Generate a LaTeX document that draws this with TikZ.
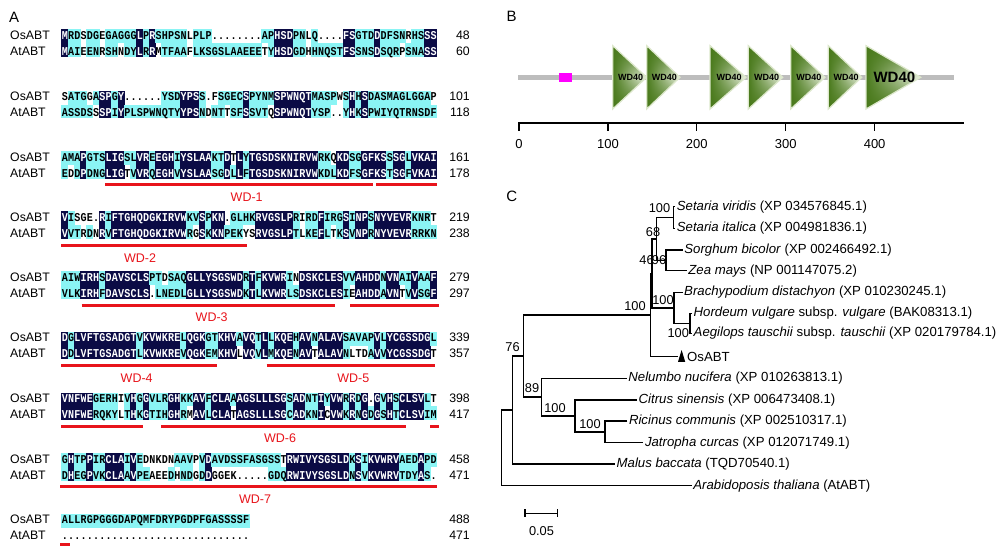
\documentclass[tikz,border=0pt]{standalone}
\usepackage{fontspec}
\setmainfont{Liberation Sans}
\newfontfamily\seqfont{Liberation Mono}[FakeStretch=0.84]
\usetikzlibrary{fadings}
\definecolor{alndark}{HTML}{0B0B45}
\definecolor{alncyan}{HTML}{8AF4F4}
\definecolor{wdred}{HTML}{E8141B}
\definecolor{wdg}{HTML}{4A7A1C}
\definecolor{wdl}{HTML}{EEF4E4}
\definecolor{wdedge}{HTML}{DDE8CC}
\definecolor{bbgray}{HTML}{BDBDBD}
\definecolor{mag}{HTML}{FF00FF}
\tikzset{
  dkcell/.style={fill=alndark},
  cycell/.style={fill=alncyan},
  seqch/.style={font=\seqfont\bfseries\fontsize{12}{12}\selectfont, inner sep=0pt, anchor=base, text=black},
  seqchw/.style={seqch, text=white},
  rowlab/.style={font=\fontsize{12.3}{14}\selectfont, inner sep=0pt, anchor=west},
  numlab/.style={font=\fontsize{12.3}{14}\selectfont, inner sep=0pt, anchor=east},
  wdline/.style={draw=wdred, line width=3pt},
  wdlab/.style={text=wdred, font=\fontsize{12.5}{14}\selectfont, inner sep=0pt},
  panlab/.style={font=\fontsize{15}{16}\selectfont, inner sep=0pt},
  leaf/.style={font=\fontsize{13.2}{15}\selectfont, inner sep=1.5pt, anchor=west},
  boot/.style={font=\fontsize{12.8}{14}\selectfont, inner sep=0pt},
  tree/.style={draw=black, line width=1.4pt},
  backbone/.style={draw=bbgray, line width=5pt},
  axisline/.style={draw=black, line width=2pt},
  tickline/.style={draw=black, line width=1.3pt},
  ticklab/.style={font=\fontsize{13}{14}\selectfont, inner sep=0pt},
  wdshade/.style={top color=wdg, bottom color=wdg, middle color=wdl},
  wdfade/.style={fill=wdg, path fading=east},
  wdborder/.style={draw=wdedge, line width=1.2pt, line join=miter},
  wdtxt/.style={inner sep=0pt, text=black},
}
\ExplSyntaxOn
\tl_new:N \l__abt_a_tl
\tl_new:N \l__abt_b_tl
\tl_new:N \l__abt_x_tl
\tl_new:N \l__abt_xa_tl
\tl_new:N \l__abt_xb_tl
\tl_new:N \l__abt_ya_tl
\tl_new:N \l__abt_ym_tl
\tl_new:N \l__abt_yb_tl
\tl_new:N \l__abt_ta_tl
\tl_new:N \l__abt_tb_tl
\cs_new_protected:Npn \abt_block:nnnnn #1#2#3#4#5
 {
  \tl_set:Nx \l__abt_ya_tl { \fp_eval:n { #1 - 5.8 } }
  \tl_set:Nx \l__abt_ym_tl { \fp_eval:n { #1 + 8 } }
  \tl_set:Nx \l__abt_yb_tl { \fp_eval:n { #1 + 21.8 } }
  \tl_set:Nx \l__abt_ta_tl { \fp_eval:n { #1 + 4 } }
  \tl_set:Nx \l__abt_tb_tl { \fp_eval:n { #1 + 20 } }
  \int_step_inline:nn { \str_count:n {#2} }
   {
    \tl_set:Nx \l__abt_a_tl { \str_item:nn {#2} {##1} }
    \tl_set:Nx \l__abt_b_tl { \str_item:nn {#3} {##1} }
    \tl_set:Nx \l__abt_xa_tl { \fp_eval:n { 61.7 + (##1 - 1) * 6.25 - 0.3 } }
    \tl_set:Nx \l__abt_xb_tl { \fp_eval:n { 61.7 + ##1 * 6.25 + 0.3 } }
    \tl_set:Nx \l__abt_x_tl { \fp_eval:n { 61.7 + (##1 - 0.5) * 6.25 } }
    \bool_if:nTF
      { \str_if_eq_p:ee { \l__abt_a_tl } { \l__abt_b_tl } && ! \str_if_eq_p:ee { \l__abt_a_tl } { . } }
      {
        \fill[dkcell]~(\l__abt_xa_tl,\l__abt_ya_tl)~rectangle~(\l__abt_xb_tl,\l__abt_yb_tl);
        \node[seqchw]~at~(\l__abt_x_tl,\l__abt_ta_tl)~{\l__abt_a_tl};
        \node[seqchw]~at~(\l__abt_x_tl,\l__abt_tb_tl)~{\l__abt_b_tl};
      }
      {
        \str_if_eq:eeF { \l__abt_a_tl } { . }
          {
            \clist_if_in:nnF {#4} {##1}
              { \fill[cycell]~(\l__abt_xa_tl,\l__abt_ya_tl)~rectangle~(\l__abt_xb_tl,\l__abt_ym_tl); }
          }
        \str_if_eq:eeF { \l__abt_b_tl } { . }
          {
            \clist_if_in:nnF {#5} {##1}
              { \fill[cycell]~(\l__abt_xa_tl,\l__abt_ym_tl)~rectangle~(\l__abt_xb_tl,\l__abt_yb_tl); }
          }
        \node[seqch]~at~(\l__abt_x_tl,\l__abt_ta_tl)~{\l__abt_a_tl};
        \node[seqch]~at~(\l__abt_x_tl,\l__abt_tb_tl)~{\l__abt_b_tl};
      }
   }
 }
\NewDocumentCommand \alnblock { m m m m m } { \abt_block:nnnnn {#1} {#2} {#3} {#4} {#5} }
\ExplSyntaxOff
\newcommand\blocklabels[4]{%
  \node[rowlab] (os#4) at (10,#1) {OsABT};
  \node[rowlab] (at#4) at (10,#1+16) {AtABT};
  \node[numlab] (nos#4) at (470,#1) {#2};
  \node[numlab] (nat#4) at (470,#1+16) {#3};
}
\newcommand\wdtri[4]{%
  \shade[wdshade] (#1,45.7) -- (#2,77.3) -- (#1,109) -- cycle;
  \fill[wdfade] (#1,45.7) -- (#2,77.3) -- (#1,109) -- cycle;
  \draw[wdborder] (#1,45.7) -- (#2,77.3) -- (#1,109) -- cycle;
  \node[wdtxt, font=\bfseries\fontsize{#4}{#4}\selectfont] (#3) at ({(#1+#2)/2+1},77.3) {WD40};
}
\begin{document}
\begin{tikzpicture}[x=1pt,y=-1pt]
\useasboundingbox (0,0) rectangle (1000,549);
\fill[white] (0,0) rectangle (1000,549);
% ---------------- Panel A ----------------
\node[panlab, anchor=west] (labA) at (9,17) {A};
\alnblock{35}{MRDSDGEGAGGGLPRSHPSNLPLP........APHSDPNLQ....FSGTDDDFSNRHSSS}{MAIEENRSHNDYLRRMTFAAFLKSGSLAAEEETYHSDGDHHNQSTFSSNSDSQRPSNASS}{4,7,21,40,56}{4,7,10,16,21,33,40,55}
\blocklabels{35}{48}{60}{1}
\alnblock{96.5}{SATGGASPGY......YSDYPSS.FSGECSPYNMSPWNQTMASPWSHHSDASMAGLGGAP}{ASSDSSSPIYPLSPWNQTYYPSNDNTTSFSSVTQSPWNQTYSP..YHKSPWIYQTRNSDF}{1,5,25,45,60}{6,24,27,34}
\blocklabels{96.5}{101}{118}{2}
\alnblock{157}{AMAPGTSLIGSLVREEGHIYSLAAKTDTLYTGSDSKNIRVWRKQKDSGGFKSSSGLVKAI}{EDDPDNGLIGTVVRQEGHVYSLAASGDLLFTGSDSKNIRVWKDLKDFSGFKSTSGFVKAI}{28,44}{2,11}
\blocklabels{157}{161}{178}{3}
\draw[wdline] (105,184.3) -- (373,184.3);
\draw[wdline] (376,184.3) -- (437,184.3);
\node[wdlab] (wd1) at (246.7,196.7) {WD-1};
\alnblock{217}{VISGE.RIFTGHQDGKIRVWKVSPKN.GLHKRVGSLPRIRDFIRGSINPSNYVEVRKNRT}{VVTRDNRVFTGHQDGKIRVWRGSKKNPEKYSRVGSLPTLKEFLTKSVNPRNYVEVRRRKN}{3,4,5,39,60}{4,6,22,30,31,39,44}
\blocklabels{217}{219}{238}{4}
\draw[wdline] (61,245) -- (247,245);
\node[wdlab] (wd2) at (140,258.3) {WD-2};
\alnblock{277}{AIWIRHSDAVSCLSPTDSAQGLLYSGSWDRTFKVWRINDSKCLESVVAHDDNVNAIVAAF}{VLKIRHFDAVSCLS.LNEDLGLLYSGSWDKTLKVWRLSDSKCLESIEAHDDAVNTVVSGF}{17,38}{47,55}
\blocklabels{277}{279}{297}{5}
\draw[wdline] (81.7,305) -- (335,305);
\draw[wdline] (350,305) -- (439,305);
\node[wdlab] (wd3) at (211.7,316.7) {WD-3};
\alnblock{337.5}{DGLVFTGSADGTVKVWKRELQGKGTKHVAVQTLLKQEHAVNALAVSAVAPVLYCGSSDGL}{DDLVFTGSADGTLKVWKREVQGKEMKHVLVQVLMKQENAVTALAVNLTDAVVYCGSSDGT}{}{29,41,47,48,49,60}
\blocklabels{337.5}{339}{357}{6}
\draw[wdline] (61,365) -- (216.7,365);
\draw[wdline] (266.7,365) -- (435,365);
\node[wdlab] (wd4) at (136.7,378.3) {WD-4};
\node[wdlab] (wd5) at (353.3,378.3) {WD-5};
\alnblock{398.3}{VNFWEGERHIVHGGVLRGHKKAVFCLAAAGSLLLSGSADNTIYVWRRDG.GVHSCLSVLT}{VNFWERQKYLTHKGTIHGHRMAVLCLATAGSLLLSGCADKNICVWKRNGDGSHTCLSVIM}{10,60}{10,21,28,43}
\blocklabels{398.3}{398}{417}{7}
\draw[wdline] (61,426.7) -- (143.3,426.7);
\draw[wdline] (161,426.7) -- (406,426.7);
\draw[wdline] (430,426.7) -- (438.7,426.7);
\node[wdlab] (wd6) at (280,438.3) {WD-6};
\alnblock{459}{GHTPPIRCLAIVEDNKDNAAVPVDAVDSSFASGSSTRWIVYSGSLDKSIKVWRVAEDAPD}{DHEGPVKCLAAVPEAEEDHNDGDDGGEK.....GDQRWIVYSGSLDNSVKVWRVTDYAS.}{14,15,16,17,18,22,36}{15,16,17,19,22,25,26,27,28}
\blocklabels{459}{458}{471}{8}
\draw[wdline] (60,486.7) -- (437.3,486.7);
\node[wdlab] (wd7) at (255,499.3) {WD-7};
\alnblock{519.5}{ALLRGPGGGDAPQMFDRYPGDPFGASSSSF}{..............................}{}{}
\blocklabels{519.5}{488}{471}{9}
\draw[wdline] (60,544) -- (70,544);
% ---------------- Panel B ----------------
\node[panlab] (labB) at (511.7,16.7) {B};
\coordinate (bbL) at (518.3,77.3);
\coordinate (bbR) at (954,77.3);
\draw[backbone] (bbL) -- (bbR);
\fill[mag] (559.3,73.3) rectangle (571.7,81.7);
\wdtri{612.7}{646.7}{w1}{9}
\wdtri{646.7}{680}{w2}{9}
\wdtri{710}{746}{w3}{9}
\wdtri{748.3}{782.7}{w4}{9}
\wdtri{790.7}{825}{w5}{9}
\wdtri{828.3}{861.7}{w6}{9}
\wdtri{866}{920.7}{w7}{15}
\coordinate (axL) at (518.3,123.3);
\coordinate (axR) at (964,123.3);
\draw[axisline] (axL) -- (axR);
\foreach \v in {0,100,200,300,400}{
  \draw[tickline] ({519+0.889*\v},123.3) -- ({519+0.889*\v},130.5);
  \node[ticklab] (t\v) at ({519+0.889*\v},144) {\v};
}
% ---------------- Panel C ----------------
\node[panlab] (labC) at (511.7,196.7) {C};
\node[leaf] (sv) at (675.2,206.7) {\textit{Setaria viridis} (XP 034576845.1)};
\node[leaf] (si) at (675.2,228.3) {\textit{Setaria italica} (XP 004981836.1)};
\node[leaf] (sb) at (682.7,250) {\textit{Sorghum bicolor} (XP 002466492.1)};
\node[leaf] (zm) at (686.7,270.7) {\textit{Zea mays} (NP 001147075.2)};
\node[leaf] (bd) at (682.5,292.3) {\textit{Brachypodium distachyon} (XP 010230245.1)};
\node[leaf] (hv) at (692,313.3) {\textit{Hordeum vulgare} subsp. \textit{vulgare} (BAK08313.1)};
\node[leaf] (at) at (692,333.3) {\textit{Aegilops tauschii} subsp. \textit{tauschii} (XP 020179784.1)};
\node[leaf] (osl) at (685.5,356.7) {OsABT};
\coordinate (ostri) at (678,356.7);
\fill[black] (678,361.8) -- (681.6,350) -- (685.2,361.8) -- cycle;
\node[leaf] (nn) at (626.7,378.3) {\textit{Nelumbo nucifera} (XP 010263813.1)};
\node[leaf] (cs) at (637,400) {\textit{Citrus sinensis} (XP 006473408.1)};
\node[leaf] (rc) at (627.3,421) {\textit{Ricinus communis} (XP 002510317.1)};
\node[leaf] (jc) at (643.3,442.7) {\textit{Jatropha curcas} (XP 012071749.1)};
\node[leaf] (mb) at (615,464) {\textit{Malus baccata} (TQD70540.1)};
\node[leaf] (ath) at (691.7,485.7) {\textit{Arabidoposis thaliana} (AtABT)};
\coordinate (n1) at (673.3,217.5);
\coordinate (n2) at (666,260.35);
\coordinate (n3) at (656.7,238.9);
\coordinate (n4) at (690,323.3);
\coordinate (n5) at (674,307.8);
\coordinate (n6) at (652,273.35);
\coordinate (n7) at (650.5,315);
\coordinate (n8) at (605,431.85);
\coordinate (n9) at (575,415.9);
\coordinate (n10) at (541.7,397.1);
\coordinate (n11) at (523.3,356.05);
\coordinate (n12) at (512.7,410);
\coordinate (root) at (501.7,447.85);
\draw[tree] (sv.west) -| (n1) |- (si.west);
\draw[tree] (sb.west) -| (n2) |- (zm.west);
\draw[tree] (n1) -| (n3) |- (n2);
\draw[tree] (hv.west) -| (n4) |- (at.west);
\draw[tree] (bd.west) -| (n5) |- (n4);
\draw[tree] (n3) -| (n6) |- (n5);
\draw[tree] (n6) -| (n7) |- (ostri);
\draw[tree] (rc.west) -| (n8) |- (jc.west);
\draw[tree] (cs.west) -| (n9) |- (n8);
\draw[tree] (nn.west) -| (n10) |- (n9);
\draw[tree] (n7) -| (n11) |- (n10);
\draw[tree] (n11) -| (n12) |- (mb.west);
\draw[tree] (n12) -| (root) |- (ath.west);
\node[boot] (b1) at (659.5,208.5) {100};
\node[boot] (b2) at (653,231.7) {68};
\node[boot] (b3) at (646.5,260) {46};
\node[boot] (b4) at (659,260) {96};
\node[boot] (b5) at (663,300) {100};
\node[boot] (b6) at (635,306) {100};
\node[boot] (b7) at (678.3,333.3) {100};
\node[boot] (b8) at (512.5,346.7) {76};
\node[boot] (b9) at (532,388.3) {89};
\node[boot] (b10) at (555,408.3) {100};
\node[boot] (b11) at (590,424) {100};
\coordinate (sbL) at (525,513.3);
\coordinate (sbR) at (557.3,513.3);
\draw[tree] (sbL) -- (sbR);
\draw[tree] (525,509.3) -- (525,517.3);
\draw[tree] (557.3,509.3) -- (557.3,517.3);
\node[boot] (sblab) at (541.5,530.7) {0.05};
\end{tikzpicture}
\end{document}
